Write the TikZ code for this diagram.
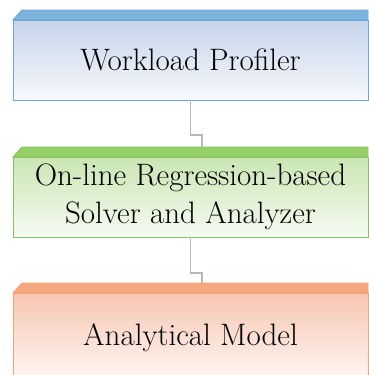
\documentclass[tikz,border=0pt]{standalone}
\usetikzlibrary{positioning}

\definecolor{blueedge}{HTML}{6EA6D4}
\definecolor{bluelid}{HTML}{7DB4DE}
\definecolor{bluetop}{HTML}{C6D4EA}
\definecolor{bluebot}{HTML}{F7F9FC}
\definecolor{greenedge}{HTML}{88C262}
\definecolor{greenlid}{HTML}{95CF68}
\definecolor{greentop}{HTML}{CAE6B3}
\definecolor{greenbot}{HTML}{F6FBF2}
\definecolor{orangeedge}{HTML}{EFA27B}
\definecolor{orangelid}{HTML}{F5A77E}
\definecolor{orangetop}{HTML}{F7C6B2}
\definecolor{orangebot}{HTML}{FFF8F5}

\tikzset{
  stage/.style={draw=#1edge, line width=0.9pt, top color=#1top, bottom color=#1bot,
    minimum width=355pt, minimum height=80pt, inner sep=0pt, outer sep=0pt,
    align=center, font=\fontsize{31}{38}\selectfont},
  lid/.style={fill=#1lid, draw=#1edge, line width=0.9pt},
  link/.style={draw=gray!55, line width=1.3pt}
}

\begin{document}
\begin{tikzpicture}[x=1pt,y=-1pt]
  \clip (0,0) rectangle (369,375);

  % the three stages
  \node[stage=blue] (prof) at (190.5,60) {Workload Profiler};
  \node[stage=green] (solv) at (190.5,197) {On-line Regression-based\\Solver and Analyzer};
  \node[stage=orange, minimum height=90pt] (model) at (190.5,338) {Analytical Model};

  % bevelled tops
  \foreach \s/\c in {prof/blue, solv/green, model/orange}
    \draw[lid=\c] (\s.north west) -- ++(9,-10) -- ([yshift=10pt]\s.north east) -- (\s.north east) -- cycle;

  \coordinate (solvtop) at ([xshift=11.5pt,yshift=10pt]solv.north);
  \coordinate (modeltop) at ([xshift=11.5pt,yshift=10pt]model.north);

  % elbow links
  \draw[link] (prof.south) -- ++(0,35) -| (solvtop);
  \draw[link] (solv.south) -- ++(0,36) -| (modeltop);
\end{tikzpicture}
\end{document}
